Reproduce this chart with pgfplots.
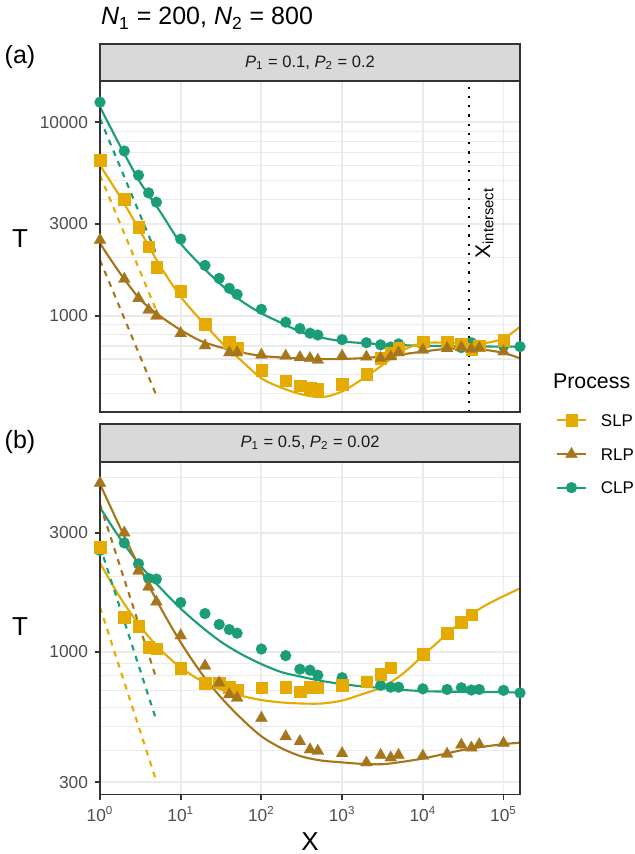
\documentclass[border=0pt]{standalone}
\usepackage{pgfplots}
\usepackage{pgfplotstable}
\pgfplotsset{compat=1.18}
\usepackage{fontspec}
\setmainfont{Liberation Sans}
\definecolor{cSLP}{HTML}{E6AB02}
\definecolor{cRLP}{HTML}{A6761D}
\definecolor{cCLP}{HTML}{1B9E77}
\definecolor{grid92}{HTML}{EBEBEB}
\definecolor{g20}{HTML}{333333}
\definecolor{g30}{HTML}{4D4D4D}
\definecolor{stripfill}{HTML}{D9D9D9}
\definecolor{g10}{HTML}{1A1A1A}

% ---------------- panel (a) ----------------
\pgfplotstableread{
X T
1 6370
2 4010
3 2875
4 2285
5 1794
10 1341
20 906
40 735
50 687
100 527
200 464
300 437
400 424
500 419
1000 446
2000 500
3000 605
4000 645
5000 687
10000 738
20000 738
30000 717
40000 673
50000 703
100000 752
}\slpApts
\pgfplotstableread{
X T
1 2466
2 1552
3 1234
4 1074
5 1000
10 814
20 703
40 647
50 647
100 630
200 622
300 612
400 605
500 593
1000 622
2000 615
3000 605
4000 617
5000 647
10000 668
20000 681
30000 688
40000 676
50000 684
100000 655
}\rlpApts
\pgfplotstableread{
X T
1 12700
2 7110
3 5330
4 4320
5 3870
10 2495
20 1825
30 1563
40 1390
50 1294
100 1083
200 929
300 861
400 815
500 798
1000 755
2000 728
3000 710
4000 692
5000 718
10000 715
20000 705
30000 687
40000 728
50000 700
100000 700
160000 695
}\clpApts
\pgfplotstableread{
X T
1 6000
1.778 4120
3.162 2735
5.623 1800
10 1258
17.78 950
31.62 735
56.23 589
100 477
177.8 426
316.2 394
562.3 381
1000 408
1778 472
3162 558
5623 665
10000 723
17783 729
31623 722
56234 722
100000 767
160000 880
}\slpAfit
\pgfplotstableread{
X T
1 2370
1.778 1660
3.162 1216
5.623 995
10 847
17.78 743
31.62 688
56.23 649
100 622
177.8 611
316.2 603
562.3 599
1000 600
1778 606
3162 618
5623 635
10000 655
17783 674
31623 681
56234 670
100000 645
160000 605
}\rlpAfit
\pgfplotstableread{
X T
1 12000
1.778 7550
3.162 4880
5.623 3435
10 2370
17.78 1828
31.62 1452
56.23 1197
100 1032
177.8 920
316.2 824
562.3 773
1000 740
1778 725
3162 715
5623 707
10000 703
17783 700
31623 698
56234 696
100000 695
160000 694
}\clpAfit

% ---------------- panel (b) ----------------
\pgfplotstableread{
X T
1 2630
2 1377
3 1266
4 1041
5 1031
10 859
20 747
30 751
40 723
50 706
100 717
200 723
300 692
400 723
500 717
1000 735
2000 758
3000 812
4000 865
10000 979
20000 1190
30000 1314
40000 1408
}\slpBpts
\pgfplotstableread{
X T
1 4745
2 3000
3 2110
4 1820
5 1584
10 1161
20 878
30 751
40 674
50 653
100 542
200 457
300 437
400 405
500 400
1000 391
2000 359
3000 385
4000 376
5000 385
10000 382
20000 389
30000 423
40000 412
50000 425
100000 430
}\rlpBpts
\pgfplotstableread{
X T
1 2550
2 2730
3 2250
4 1968
5 1955
10 1575
20 1422
30 1286
40 1227
50 1186
100 1025
200 964
300 851
400 843
500 805
1000 787
2000 751
3000 733
4000 721
5000 721
10000 710
20000 706
30000 717
40000 702
50000 706
100000 700
160000 684
}\clpBpts
\pgfplotstableread{
X T
1 2264
1.778 1650
3.162 1262
5.623 1018
10 864
17.78 766
31.62 705
56.23 666
100 640
177.8 626
316.2 620
562.3 620
1000 637
1778 676
3162 722
5623 815
10000 964
17783 1140
31623 1337
56234 1517
100000 1670
160000 1795
}\slpBfit
\pgfplotstableread{
X T
1 4700
1.778 3146
3.162 2144
5.623 1503
10 1090
17.78 825
31.62 655
56.23 540
100 458
177.8 410
316.2 380
562.3 366
1000 360
1778 355
3162 354
5623 362
10000 373
17783 388
31623 404
56234 416
100000 426
160000 432
}\rlpBfit
\pgfplotstableread{
X T
1 3785
1.778 2840
3.162 2215
5.623 1800
10 1489
17.78 1265
31.62 1095
56.23 978
100 892
177.8 828
316.2 793
562.3 763
1000 742
1778 726
3162 715
5623 703
10000 695
17783 692
31623 690
56234 689
100000 688
160000 686
}\clpBfit

\pgfplotsset{
  fitline/.style={line width=1.1pt, smooth, tension=0.5},
  dashline/.style={line width=1.1pt, dash pattern=on 3pt off 3pt},
  sq/.style={only marks, mark=square*, mark size=3.0pt, mark options={solid, fill=cSLP, draw=cSLP, line width=0.1pt}},
  tri/.style={only marks, mark=triangle*, mark size=3.6pt, mark options={solid, fill=cRLP, draw=cRLP, line width=0.1pt}},
  circ/.style={only marks, mark=*, mark size=2.85pt, mark options={solid, fill=cCLP, draw=cCLP, line width=0.1pt}},
  mypanel/.style={
    scale only axis, width=218.4pt,
    xmin=1, xmax=160000,
    clip=false,
    axis line style={g20, line width=1pt},
    tick style={g20, line width=1pt},
    major tick length=2.75pt, minor tick length=0pt,
    tick align=outside,
    xtick pos=bottom, ytick pos=left,
    xminorticks=false,
    xmajorgrids, ymajorgrids, yminorgrids,
    major grid style={grid92, line width=1pt},
    minor grid style={grid92, line width=0.55pt},
    xtick={1,10,100,1000,10000,100000},
    tick label style={font=\fontsize{9}{10}\selectfont, text=g30},
  },
}

\begin{document}
\begin{tikzpicture}
\useasboundingbox (0pt,0pt) rectangle (329.68pt,-444.08pt);

% ===== panel (a) =====
\begin{axis}[xmode=log, ymode=log, mypanel,
  at={(52pt,-214.24pt)}, anchor=south west, height=172.28pt,
  ymin=319.5, ymax=16400,
  ytick={1000,3000,10000}, yticklabels={1000,3000,10000},
  minor ytick={400,500,600,700,800,900,2000,4000,5000,6000,7000,8000,9000},
  xticklabels={}, xtick style={draw=none},
  legend style={at={(1.0857,-0.1262)}, anchor=west, draw=none, fill=none,
    inner sep=0pt, outer sep=0pt, font=\fontsize{8.8}{10}\selectfont,
    row sep=11pt, nodes={inner sep=0pt, text height=6.4pt, text depth=0pt},
    /tikz/every odd column/.append style={column sep=7.3pt}},
  legend cell align=left,
  legend image code/.code={\draw[mark repeat=2,mark phase=2] plot coordinates {(0pt,0pt) (7.5pt,0pt) (15pt,0pt)};},
]
\addlegendimage{cSLP, line width=1.1pt, mark=square*, mark size=3.0pt, mark options={solid, line width=0.1pt}}
\addlegendentry{SLP}
\addlegendimage{cRLP, line width=1.1pt, mark=triangle*, mark size=3.6pt, mark options={solid, line width=0.1pt}}
\addlegendentry{RLP}
\addlegendimage{cCLP, line width=1.1pt, mark=*, mark size=2.85pt, mark options={solid, line width=0.1pt}}
\addlegendentry{CLP}

\addplot[forget plot, black, line width=1pt, dash pattern=on 1.1pt off 3.7pt] coordinates {(37400,319.5) (37400,16400)};

\addplot[forget plot, circ] table {\clpApts};
\addplot[forget plot, sq] table {\slpApts};
\addplot[forget plot, tri] table {\rlpApts};

\addplot[forget plot, cCLP, fitline] table {\clpAfit};
\addplot[forget plot, cSLP, fitline] table {\slpAfit};
\addplot[forget plot, cRLP, fitline] table {\rlpAfit};

\addplot[forget plot, cCLP, dashline] coordinates {(1,10450) (5,2090)};
\addplot[forget plot, cSLP, dashline] coordinates {(1,5330) (5,1066)};
\addplot[forget plot, cRLP, dashline] coordinates {(1,1944) (5,389)};

\node[rotate=90, anchor=base, font=\fontsize{11}{13}\selectfont] at (axis cs:68000,3020) {X\textsubscript{intersect}};
\draw[g20, line width=1pt] (rel axis cs:0,0) rectangle (rel axis cs:1,1);
\end{axis}

% ===== panel (b) =====
\begin{axis}[xmode=log, ymode=log, mypanel,
  at={(52pt,-413.14pt)}, anchor=south west, height=172.9pt,
  ymin=267.6, ymax=5763,
  ytick={300,1000,3000}, yticklabels={300,1000,3000},
  minor ytick={400,500,600,700,800,900,2000,4000,5000},
  xticklabels={10\textsuperscript{0},10\textsuperscript{1},10\textsuperscript{2},10\textsuperscript{3},10\textsuperscript{4},10\textsuperscript{5}},
]
\addplot[forget plot, circ] table {\clpBpts};
\addplot[forget plot, sq] table {\slpBpts};
\addplot[forget plot, tri] table {\rlpBpts};

\addplot[forget plot, cCLP, fitline] table {\clpBfit};
\addplot[forget plot, cSLP, fitline] table {\slpBfit};
\addplot[forget plot, cRLP, fitline] table {\rlpBfit};

\addplot[forget plot, cCLP, dashline] coordinates {(1,2650) (5,530)};
\addplot[forget plot, cSLP, dashline] coordinates {(1,1510) (5,302)};
\addplot[forget plot, cRLP, dashline] coordinates {(1,3900) (5,780)};
\draw[g20, line width=1pt] (rel axis cs:0,0) rectangle (rel axis cs:1,1);
\end{axis}

% strips
\draw[g20, line width=1pt, fill=stripfill] (52pt,-22.88pt) rectangle (270.4pt,-41.96pt);
\node[font=\fontsize{8.6}{10}\selectfont, text=g10] at (161.2pt,-32.42pt) {\textit{P}\textsubscript{1} = 0.1, \textit{P}\textsubscript{2} = 0.2};
\draw[g20, line width=1pt, fill=stripfill] (52pt,-220.48pt) rectangle (270.4pt,-240.24pt);
\node[font=\fontsize{8.6}{10}\selectfont, text=g10] at (161.2pt,-230.36pt) {\textit{P}\textsubscript{1} = 0.5, \textit{P}\textsubscript{2} = 0.02};

% title, tags, axis titles
\node[anchor=base west, inner sep=0pt, font=\fontsize{13}{15}\selectfont] at (52.4pt,-13pt) {\textit{N}\textsubscript{1} = 200, \textit{N}\textsubscript{2} = 800};
\node[font=\fontsize{13}{15}\selectfont] at (10.4pt,-29.5pt) {(a)};
\node[font=\fontsize{13}{15}\selectfont] at (10.4pt,-229.8pt) {(b)};
\node[font=\fontsize{13.5}{15}\selectfont] at (10.4pt,-123.8pt) {T};
\node[font=\fontsize{13.5}{15}\selectfont] at (10.4pt,-326pt) {T};
\node[font=\fontsize{13.5}{15}\selectfont] at (161.2pt,-437.8pt) {X};
\node[anchor=west, inner sep=0pt, font=\fontsize{11.1}{13}\selectfont] at (287.4pt,-198.1pt) {Process};
\end{tikzpicture}
\end{document}
